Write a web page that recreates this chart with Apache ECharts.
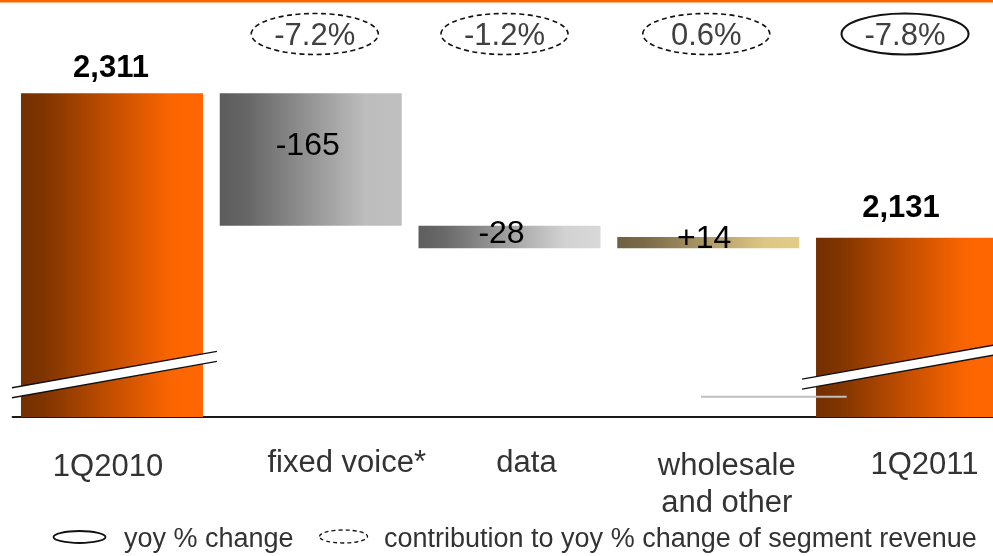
<!DOCTYPE html>
<html>
<head>
<meta charset="utf-8">
<style>
  html, body { margin: 0; padding: 0; background: #fff; }
  #chart { width: 993px; height: 556px; }
</style>
<script src="https://cdn.jsdelivr.net/npm/echarts@6/dist/echarts.min.js"></script>
</head>
<body>
<div id="chart"></div>
<script>
// Segment revenue bridge, 1Q2010 -> 1Q2011
const categories = ['1Q2010', 'fixed voice*', 'data', 'wholesale\nand other', '1Q2011'];
const openingRevenue = 2311;
const changes = [-165, -28, 14];           // fixed voice*, data, wholesale and other
const closingRevenue = 2131;
const contributionPct = [-7.2, -1.2, 0.6]; // contribution to yoy % change of segment revenue
const yoyPct = -7.8;                        // yoy % change

const FONT = '"Liberation Sans", Arial, Helvetica, sans-serif';

// waterfall layout: invisible base + visible change bars
const baseData = [0];
const changeData = ['-'];
const totalData = [openingRevenue, '-', '-', '-', closingRevenue];
let level = openingRevenue;
changes.forEach(d => {
  baseData.push(d < 0 ? level + d : level);
  changeData.push(Math.abs(d));
  level += d;
});
baseData.push(0);
changeData.push('-');

function grad(stops) {
  return new echarts.graphic.LinearGradient(0, 0, 1, 0,
    stops.map(s => ({ offset: s[0], color: s[1] })));
}
const orangeFill = grad([[0, '#743000'], [0.12, '#7e3400'], [0.5, '#c44f00'], [0.82, '#fb6500'], [1, '#ff6600']]);
const greyFill1 = grad([[0, '#5c5c5c'], [0.15, '#666666'], [0.8, '#bdbdbd'], [1, '#bfbfbf']]);
const greyFill2 = grad([[0, '#5e5e5e'], [0.15, '#6a6a6a'], [0.8, '#d2d2d2'], [1, '#d8d8d8']]);
const goldFill = grad([[0, '#6f6142'], [0.15, '#7a6a47'], [0.8, '#ddc584'], [1, '#e3cc88']]);
const changeFills = [greyFill1, greyFill2, goldFill];
const changeLabelOffsets = [[-3, -13], [-8, -3], [-4, -3]];

const changeSeriesData = changeData.map((v, i) => {
  if (v === '-') return '-';
  const k = i - 1;
  return {
    value: v,
    itemStyle: { color: changeFills[k] },
    label: { offset: changeLabelOffsets[k] }
  };
});

const totalSeriesData = totalData.map((v, i) => {
  if (v === '-') return '-';
  return {
    value: v,
    label: i === 0 ? { offset: [-1, 0], distance: 9 } : { offset: [-6, 0], distance: 14 }
  };
});

// percentage call-outs above the categories
const pctData = contributionPct.map((p, i) => [i + 1, p, 0]).concat([[4, yoyPct, 1]]);
const pctShift = [4, -5, -2, -2];

const chart = echarts.init(document.getElementById('chart'), null, { renderer: 'canvas' });

const labelRich = (pad, extra) => Object.assign({ padding: pad, fontSize: 31, fontFamily: FONT, color: '#333' }, extra || {});

const option = {
  animation: false,
  grid: { left: 12.6, right: -13.4, top: 21.6, bottom: 139, containLabel: false, outerBoundsMode: 'none' },
  xAxis: {
    type: 'category',
    data: categories,
    axisTick: { show: false },
    axisLine: { lineStyle: { color: '#1a1a1a', width: 2 } },
    axisLabel: {
      interval: 0,
      margin: 31,
      color: '#333333',
      fontFamily: FONT,
      fontSize: 31,
      formatter: (val, idx) => val.split('\n').map(line => '{c' + idx + '|' + line + '}').join('\n'),
      rich: {
        c0: labelRich([4, 8, 0, 0]),
        c1: labelRich([0, 0, 0, 72]),
        c2: labelRich([0, 0, 0, 34]),
        c3: labelRich([0, 0, 0, 37], { lineHeight: 37 }),
        c4: labelRich([2, 0, 0, 35])
      }
    }
  },
  yAxis: {
    type: 'value',
    min: 1908,
    max: 2400,
    show: false,
    splitLine: { show: false }
  },
  series: [
    {
      name: 'base',
      type: 'bar',
      stack: 'bridge',
      barWidth: 182,
      clip: true,
      silent: true,
      itemStyle: { color: 'transparent' },
      data: baseData
    },
    {
      name: 'total',
      type: 'bar',
      stack: 'bridge',
      barWidth: 182,
      clip: true,
      itemStyle: { color: orangeFill },
      label: {
        show: true,
        position: 'top',
        color: '#000',
        fontFamily: FONT,
        fontSize: 31,
        fontWeight: 'bold',
        formatter: p => p.value.toLocaleString('en-US')
      },
      data: totalSeriesData
    },
    {
      name: 'change',
      type: 'bar',
      stack: 'bridge',
      barWidth: 182,
      clip: true,
      label: {
        show: true,
        position: 'inside',
        color: '#000',
        fontFamily: FONT,
        fontSize: 32,
        formatter: p => {
          const d = changes[p.dataIndex - 1];
          return (d > 0 ? '+' : '') + d;
        }
      },
      data: changeSeriesData
    },
    {
      name: 'pct',
      type: 'custom',
      z: 10,
      clip: false,
      encode: { x: 0, y: 1 },
      data: pctData,
      renderItem: (params, api) => {
        const cx = api.coord([api.value(0), 2400])[0] + pctShift[params.dataIndex];
        const solid = api.value(2) === 1;
        const p = api.value(1);
        return {
          type: 'group',
          children: [
            {
              type: 'ellipse',
              shape: { cx: cx, cy: 34, rx: 63.5, ry: 20.5 },
              style: {
                fill: null,
                stroke: '#111',
                lineWidth: solid ? 2 : 1.6,
                lineDash: solid ? null : [5, 3.5]
              }
            },
            {
              type: 'text',
              style: {
                text: p.toFixed(1) + '%',
                x: cx,
                y: 36,
                align: 'center',
                verticalAlign: 'middle',
                fill: '#404040',
                font: '31px ' + FONT
              }
            }
          ]
        };
      }
    },
    {
      name: 'axisBreak',
      type: 'custom',
      z: 10,
      clip: false,
      encode: { x: 0, y: 1 },
      data: [[0, 1908], [4, 1908]],
      renderItem: (params, api) => {
        const pt = api.coord([api.value(0), api.value(1)]);
        const cx = pt[0], ay = pt[1];
        const first = params.dataIndex === 0;
        const rise = first ? 47 : 56.5;
        const l1 = first ? 100 : 105, l2 = 105;
        const s = 0.177, gap = 10;
        const x1 = cx - l1, x2 = cx + l2;
        const y1 = ay - rise + l1 * s, y2 = ay - rise - l2 * s;
        return {
          type: 'group',
          children: [
            { type: 'polygon', shape: { points: [[x1, y1], [x2, y2], [x2, y2 + gap], [x1, y1 + gap]] },
              style: { fill: '#ffffff' } },
            { type: 'line', shape: { x1: x1, y1: y1, x2: x2, y2: y2 },
              style: { stroke: '#111', lineWidth: 1.4 } },
            { type: 'line', shape: { x1: x1, y1: y1 + gap, x2: x2, y2: y2 + gap },
              style: { stroke: '#111', lineWidth: 1.4 } }
          ]
        };
      }
    }
  ],
  graphic: [
    // orange rule across the top
    { type: 'rect', left: 0, top: 0, shape: { width: 993, height: 2.4 }, style: { fill: '#ff6600' }, z: 20 },
    // thin grey stroke near the baseline
    { type: 'line', shape: { x1: 701, y1: 396.7, x2: 846.7, y2: 396.7 }, style: { stroke: '#bfbfbf', lineWidth: 2 }, z: 20 },
    // legend
    { type: 'ellipse', shape: { cx: 79.5, cy: 537, rx: 26, ry: 6 }, style: { fill: null, stroke: '#111', lineWidth: 1.8 }, z: 20 },
    { type: 'text', x: 124, y: 540, style: { text: 'yoy % change', font: '27px ' + FONT, fill: '#333', verticalAlign: 'middle', align: 'left' }, z: 20 },
    { type: 'ellipse', shape: { cx: 343.5, cy: 536.5, rx: 24, ry: 6.5 }, style: { fill: null, stroke: '#111', lineWidth: 1.3, lineDash: [4, 3] }, z: 20 },
    { type: 'text', x: 384, y: 540, style: { text: 'contribution to yoy % change of segment revenue', font: '27px ' + FONT, fill: '#333', verticalAlign: 'middle', align: 'left' }, z: 20 }
  ]
};

chart.setOption(option);
</script>
</body>
</html>
